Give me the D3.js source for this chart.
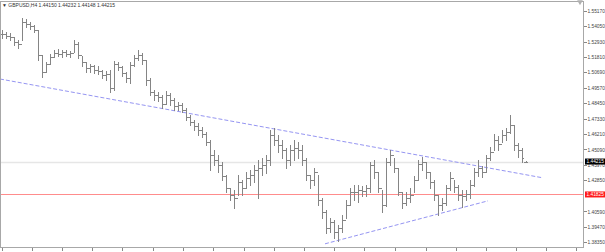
<!DOCTYPE html>
<html>
<head>
<meta charset="utf-8">
<script src="https://cdn.jsdelivr.net/npm/d3@7"></script>
<style>
  body { margin: 0; background: #fff; }
  svg { display: block; }
  text { font-family: "Liberation Sans", Arial, sans-serif; }
</style>
</head>
<body>
<div id="chart"></div>
<script>
// GBPUSD H4 bars
const symbol = "GBPUSD,H4";
const lastQuote = [1.44150, 1.44232, 1.44148, 1.44215]; // O H L C of the current bar

const highs = [
  1.5377,1.5363,1.5355,1.5326,1.5305,1.5464,1.5457,1.5435,1.5414,1.5377,
  1.5196,1.5145,1.5203,1.5232,1.5239,1.5232,1.5232,1.5225,1.5305,1.5290,
  1.5188,1.5145,1.5130,1.5123,1.5116,1.5087,1.5080,1.5087,1.5152,1.5145,
  1.5116,1.5072,1.5145,1.5196,1.5232,1.5210,1.5159,1.5029,1.4942,1.4927,
  1.4905,1.4934,1.4920,1.4884,1.4855,1.4847,1.4811,1.4760,1.4724,1.4702,
  1.4673,1.4637,1.4579,1.4506,1.4470,1.4419,1.4325,1.4230,1.4216,1.4325,
  1.4288,1.4346,1.4361,1.4397,1.4433,1.4448,1.4470,1.4651,1.4666,1.4615,
  1.4579,1.4521,1.4542,1.4579,1.4564,1.4542,1.4448,1.4325,1.4375,1.4325,
  1.4158,1.4070,1.4012,1.3998,1.3961,1.4034,1.4143,1.4230,1.4252,1.4252,
  1.4245,1.4252,1.4419,1.4433,1.4346,1.4216,1.4448,1.4506,1.4448,1.4375,
  1.4201,1.4201,1.4230,1.4317,1.4433,1.4455,1.4419,1.4346,1.4288,1.4179,
  1.4158,1.4252,1.4346,1.4288,1.4252,1.4216,1.4216,1.4288,1.4375,1.4433,
  1.4390,1.4470,1.4528,1.4622,1.4608,1.4651,1.4666,1.4760,1.4688,1.4557,
  1.4521,1.44232
];
const lows = [
  1.5319,1.5319,1.5305,1.5268,1.5247,1.5305,1.5399,1.5385,1.5363,1.5159,
  1.5036,1.5072,1.5130,1.5181,1.5188,1.5181,1.5188,1.5181,1.5217,1.5174,
  1.5116,1.5072,1.5072,1.5065,1.5058,1.5029,1.5014,1.4927,1.4942,1.5087,
  1.5043,1.5000,1.4992,1.5116,1.5159,1.5130,1.4978,1.4905,1.4869,1.4862,
  1.4811,1.4840,1.4833,1.4796,1.4796,1.4782,1.4724,1.4688,1.4651,1.4615,
  1.4600,1.4542,1.4361,1.4397,1.4346,1.4288,1.4201,1.4143,1.4085,1.4179,
  1.4179,1.4230,1.4252,1.4274,1.4158,1.4325,1.4339,1.4397,1.4542,1.4492,
  1.4448,1.4375,1.4397,1.4433,1.4448,1.4397,1.4288,1.4230,1.4252,1.4107,
  1.4012,1.3903,1.3911,1.3867,1.3845,1.3911,1.4012,1.4107,1.4143,1.4129,
  1.4172,1.4172,1.4201,1.4303,1.4201,1.4056,1.4099,1.4397,1.4346,1.4179,
  1.4085,1.4107,1.4129,1.4201,1.4288,1.4361,1.4303,1.4230,1.4143,1.4034,
  1.4070,1.4107,1.4216,1.4201,1.4143,1.4092,1.4143,1.4158,1.4245,1.4317,
  1.4310,1.4346,1.4433,1.4506,1.4506,1.4564,1.4579,1.4629,1.4506,1.4455,
  1.4419,1.44148
];
const closes = [
  1.5348,1.5334,1.5326,1.5290,1.5276,1.5435,1.5421,1.5406,1.5377,1.5196,
  1.5072,1.5130,1.5181,1.5210,1.5203,1.5217,1.5203,1.5210,1.5276,1.5196,
  1.5145,1.5101,1.5116,1.5087,1.5080,1.5051,1.5058,1.4956,1.5130,1.5109,
  1.5065,1.5029,1.5123,1.5174,1.5196,1.5159,1.5014,1.4927,1.4905,1.4891,
  1.4840,1.4905,1.4869,1.4825,1.4833,1.4796,1.4746,1.4709,1.4680,1.4651,
  1.4622,1.4564,1.4470,1.4433,1.4397,1.4317,1.4230,1.4179,1.4158,1.4274,
  1.4230,1.4303,1.4325,1.4361,1.4375,1.4397,1.4433,1.4615,1.4579,1.4542,
  1.4506,1.4433,1.4506,1.4521,1.4506,1.4433,1.4325,1.4288,1.4346,1.4143,
  1.4056,1.3940,1.3983,1.3911,1.3940,1.3998,1.4107,1.4201,1.4201,1.4216,
  1.4208,1.4230,1.4397,1.4346,1.4230,1.4107,1.4419,1.4470,1.4375,1.4201,
  1.4121,1.4158,1.4179,1.4288,1.4404,1.4419,1.4346,1.4274,1.4179,1.4107,
  1.4121,1.4230,1.4303,1.4237,1.4179,1.4172,1.4187,1.4252,1.4346,1.4375,
  1.4346,1.4448,1.4492,1.4579,1.4550,1.4615,1.4637,1.4688,1.4542,1.4506,
  1.4448,1.44215
];

// the 1.41720 mark sits under the red level label, so it is not listed
const priceTicks = [1.55170, 1.54050, 1.52930, 1.51810, 1.50690, 1.49570, 1.48450, 1.47330,
  1.46210, 1.45090, 1.43970, 1.42850, 1.40590, 1.39470, 1.38350];
// bottom axis tick marks, in bar units (labels fall outside the picture)
const timeTicks = [0, 7.5, 15, 22.5, 30, 37.75, 45.25, 52.75, 60.5, 68, 75.5, 83, 90.5,
  98.25, 106, 113.5, 121, 128.5, 136, 143.5];

const supportLevel = 1.41825;
// trendlines as [bar, price]
const trendUpper = [[-0.5, 1.5021], [135.25, 1.4303]];
const trendLower = [[80.75, 1.3824], [121.5, 1.4136]];

const width = 605, height = 252;
const plot = {left: 0, top: 1, right: 583, bottom: 247};
const n = closes.length;

const svg = d3.select("#chart").append("svg")
  .attr("width", width)
  .attr("height", height);

const x = d3.scaleLinear()
  .domain([0, n - 1])
  .range([2, 2 + 4 * (n - 1)]);

const y = d3.scaleLinear()
  .domain([1.38350, 1.55170])
  .range([242.3, 10.7]);

const snap = v => Math.round(v) + 0.5;

svg.append("clipPath").attr("id", "clip")
  .append("rect")
    .attr("x", plot.left).attr("y", plot.top)
    .attr("width", plot.right - plot.left).attr("height", plot.bottom - plot.top);

const body = svg.append("g").attr("clip-path", "url(#clip)");

// current price line
body.append("line")
  .attr("x1", plot.left).attr("x2", plot.right)
  .attr("y1", snap(y(lastQuote[3]))).attr("y2", snap(y(lastQuote[3])))
  .attr("stroke", "#e6e6e6")
  .attr("stroke-width", 1.5);

// support level
body.append("line")
  .attr("x1", plot.left).attr("x2", plot.right)
  .attr("y1", snap(y(supportLevel))).attr("y2", snap(y(supportLevel)))
  .attr("stroke", "#ff8c8c")
  .attr("stroke-width", 1)
  .attr("shape-rendering", "crispEdges");

// trendlines
const trend = d3.line().x(d => x(d[0])).y(d => y(d[1]));
body.selectAll(".trend")
  .data([trendUpper, trendLower])
  .join("path")
    .attr("class", "trend")
    .attr("d", trend)
    .attr("fill", "none")
    .attr("stroke", "#9595f2")
    .attr("stroke-width", 1)
    .attr("stroke-dasharray", "4,2");

// OHLC bars
const bars = d3.range(n).map(i => ({
  i,
  high: highs[i],
  low: lows[i],
  close: closes[i],
  open: i === n - 1 ? lastQuote[0] : (i > 0 ? closes[i - 1] : closes[0])
}));

const barG = body.append("g")
  .attr("stroke", "#858585")
  .attr("stroke-width", 1)
  .attr("shape-rendering", "crispEdges");

barG.selectAll(".hl")
  .data(bars)
  .join("line")
    .attr("x1", d => snap(x(d.i))).attr("x2", d => snap(x(d.i)))
    .attr("y1", d => Math.round(y(d.high))).attr("y2", d => Math.round(y(d.low)) + 1);

barG.selectAll(".op")
  .data(bars)
  .join("line")
    .attr("x1", d => Math.round(x(d.i)) - 2).attr("x2", d => Math.round(x(d.i)))
    .attr("y1", d => snap(y(d.open))).attr("y2", d => snap(y(d.open)));

barG.selectAll(".cl")
  .data(bars)
  .join("line")
    .attr("x1", d => Math.round(x(d.i)) + 1).attr("x2", d => Math.round(x(d.i)) + 2)
    .attr("y1", d => snap(y(d.close))).attr("y2", d => snap(y(d.close)));

// frame
svg.append("rect")
  .attr("x", plot.left + 0.5).attr("y", plot.top + 0.5)
  .attr("width", plot.right - plot.left).attr("height", plot.bottom - plot.top)
  .attr("fill", "none")
  .attr("stroke", "#a8a8a8")
  .attr("shape-rendering", "crispEdges");

// price axis
const yAxis = svg.append("g")
  .attr("transform", `translate(${plot.right + 0.5},0)`)
  .call(d3.axisRight(y)
    .tickValues(priceTicks)
    .tickFormat(d3.format(".5f"))
    .tickSize(3)
    .tickPadding(1))
  .call(g => g.select(".domain").remove());
yAxis.selectAll(".tick line").attr("stroke", "#888").attr("shape-rendering", "crispEdges");
yAxis.selectAll(".tick text")
  .attr("font-size", 4.8)
  .attr("fill", "#444")
  .attr("font-family", "Liberation Sans, Arial, sans-serif");

// time axis marks
svg.append("g")
  .attr("transform", `translate(0,${plot.bottom + 0.5})`)
  .call(d3.axisBottom(x).tickValues(timeTicks).tickFormat("").tickSize(3))
  .call(g => g.select(".domain").remove())
  .call(g => g.selectAll(".tick line").attr("stroke", "#888").attr("shape-rendering", "crispEdges"));

// price labels
function priceLabel(value, bg) {
  const g = svg.append("g").attr("transform", `translate(${plot.right + 2},${y(value)})`);
  g.append("rect")
    .attr("x", 0).attr("y", -3)
    .attr("width", 20).attr("height", 6)
    .attr("fill", bg);
  g.append("text")
    .attr("x", 1.5).attr("dy", "0.35em")
    .attr("font-size", 4.8)
    .attr("fill", "#fff")
    .text(d3.format(".5f")(value));
}
priceLabel(supportLevel, "#ff1a1a");
priceLabel(lastQuote[3], "#000");

// shift marker
svg.append("path")
  .attr("d", d3.symbol(d3.symbolTriangle, 14)())
  .attr("transform", `translate(${plot.right - 3},2) rotate(180)`)
  .attr("fill", "#b0b0b0");

// header
svg.append("text")
  .attr("x", 2).attr("y", 7)
  .attr("font-size", 5)
  .attr("fill", "#333")
  .text(`\u25BC ${symbol}  ${lastQuote.map(d3.format(".5f")).join(" ")}`);
</script>
</body>
</html>
